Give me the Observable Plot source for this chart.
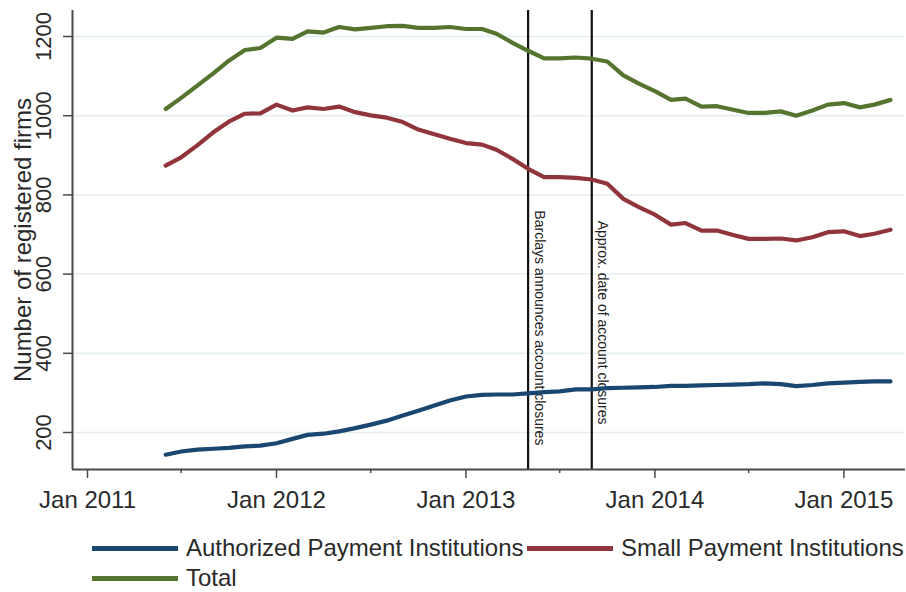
<!DOCTYPE html>
<html><head><meta charset="utf-8">
<script src="https://cdn.jsdelivr.net/npm/d3@7"></script>
<script src="https://cdn.jsdelivr.net/npm/@observablehq/plot@0.6"></script>
<style>
body{margin:0;background:#fff;font-family:"Liberation Sans",Arial,sans-serif;}
#legend{position:relative;width:906px;height:72px;color:#2a2a2a;font-size:24px;}
.item{position:absolute;display:flex;align-items:center;transform:translateY(-50%);white-space:nowrap;}
.sw{width:86px;height:5px;margin-right:8px;}
</style></head><body><div id="chart"></div><div id="legend"></div>
<script>
// Monthly observations, Jun 2011 .. Apr 2015
const firstMonth = new Date(Date.UTC(2011, 5, 1));
const lastMonth = new Date(Date.UTC(2015, 3, 1));
const months = d3.utcMonth.range(firstMonth, d3.utcMonth.offset(lastMonth, 1));

const seriesNames = ["Authorized Payment Institutions", "Small Payment Institutions", "Total"];
const seriesColors = ["#1a476f", "#90353b", "#55752f"];

const authorized = [144,152,157,159,161,165,167,173,184,194,197,203,211,220,230,243,255,268,281,291,295,296,296,299,302,304,309,309,312,313,314,315,318,318,319,320,321,322,324,322,317,320,324,326,328,329,329];
const small = [874,895,925,958,985,1005,1006,1028,1013,1021,1017,1023,1009,1001,995,984,965,953,942,931,927,914,891,866,845,845,843,839,828,790,769,750,725,729,710,710,699,689,689,690,685,693,706,708,696,702,712];
const total = [1017,1045,1076,1107,1139,1166,1171,1197,1194,1213,1210,1224,1218,1222,1226,1227,1222,1222,1224,1219,1219,1207,1184,1164,1145,1145,1147,1144,1137,1102,1081,1062,1040,1043,1023,1024,1015,1007,1007,1011,1000,1013,1028,1032,1021,1028,1040];

const eventDates = [new Date(Date.UTC(2013, 4, 1)), new Date(Date.UTC(2013, 8, 1))];
const eventLabels = ["Barclays announces account closures", "Approx. date of account closures"];
const eventLabelValues = [761, 735];

const yTicks = [200, 400, 600, 800, 1000, 1200];
const xMajorTicks = [2011, 2012, 2013, 2014, 2015].map(y => new Date(Date.UTC(y, 0, 1)));
const xMinorTicks = [2011, 2012, 2013, 2014].map(y => new Date(Date.UTC(y, 6, 1)));

const xDomain = [new Date(Date.UTC(2010, 11, 3)), new Date(Date.UTC(2015, 3, 30))];
const yDomain = [106.6, 1265.7];
const axisColor = "#4a4a4a";
const font = "Liberation Sans, Arial, sans-serif";

const seriesData = [authorized, small, total];
const events = eventDates.map((d, i) => ({date: d, label: eventLabels[i], v: eventLabelValues[i]}));

const chart = Plot.plot({
  width: 906, height: 520,
  marginLeft: 72, marginTop: 10, marginRight: 1, marginBottom: 51,
  x: {type: "utc", domain: xDomain},
  y: {domain: yDomain},
  style: {fontFamily: font, color: "#2a2a2a", background: "#fff"},
  marks: [
    Plot.gridY(yTicks, {stroke: "#e4eef0", strokeOpacity: 1, strokeWidth: 1.5}),
    Plot.ruleX(events, {x: "date", stroke: "#111", strokeWidth: 2.2}),
    Plot.text(events, {x: "date", y: "v", text: "label", rotate: 90, textAnchor: "start", dx: 11, fontSize: 14, fill: "#222"}),
    ...seriesData.map((vals, s) => Plot.line(vals, {x: (d, i) => months[i], y: d => d, stroke: seriesColors[s], strokeWidth: 4.2, strokeLinejoin: "round", strokeLinecap: "round"})),
    Plot.ruleX([xDomain[0]], {stroke: axisColor, strokeWidth: 2}),
    Plot.ruleY([yDomain[0]], {stroke: axisColor, strokeWidth: 2}),
    Plot.axisX(xMajorTicks, {tickSize: 9, tickPadding: 12, tickFormat: d3.utcFormat("%b %Y"), fontSize: 24, stroke: axisColor, strokeWidth: 1.5, label: null}),
    Plot.axisX(xMinorTicks, {tickSize: 4, tickFormat: () => "", stroke: axisColor, strokeWidth: 1.5, label: null}),
    Plot.axisY(yTicks, {tickSize: 9, tickFormat: () => "", stroke: axisColor, strokeWidth: 1.5, label: null}),
    Plot.text(yTicks, {frameAnchor: "left", y: d => d, text: d => String(d), rotate: -90, dx: -29, fontSize: 22, textAnchor: "middle", fill: "#2a2a2a"}),
    Plot.text(["Number of registered firms"], {frameAnchor: "left", text: d => d, dx: -49, rotate: -90, fontSize: 24, textAnchor: "middle", fill: "#2a2a2a"})
  ]
});
document.getElementById("chart").appendChild(chart);

const legend = document.getElementById("legend");
const legendPos = [[92, 28], [527, 28], [92, 58]];
seriesNames.forEach((name, i) => {
  const it = document.createElement("div");
  it.className = "item";
  it.style.left = legendPos[i][0] + "px";
  it.style.top = legendPos[i][1] + "px";
  const sw = document.createElement("span");
  sw.className = "sw";
  sw.style.background = seriesColors[i];
  const t = document.createElement("span");
  t.textContent = name;
  it.appendChild(sw); it.appendChild(t);
  legend.appendChild(it);
});
</script></body></html>
